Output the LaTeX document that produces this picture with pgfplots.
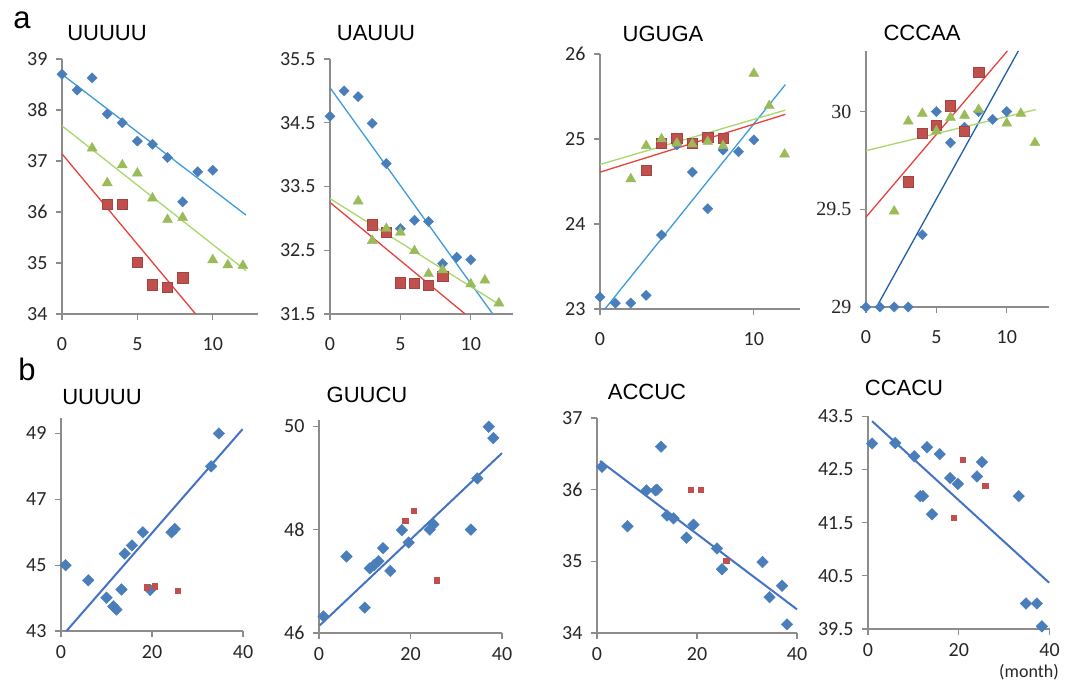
\documentclass[border=0pt]{standalone}
\usepackage{pgfplots}
\pgfplotsset{compat=1.18}
\usepackage{fontspec}
\setmainfont{Carlito}
\newfontfamily\arialfont{Liberation Sans}
\newfontfamily\timesfont{Liberation Serif}
\definecolor{axgray}{HTML}{8C8C8C}
\definecolor{mblue}{HTML}{4A7EBB}
\definecolor{mred}{HTML}{C0504D}
\definecolor{mgreen}{HTML}{9BBB59}
\definecolor{lblue}{HTML}{3C9BDC}
\definecolor{lred}{HTML}{E8413C}
\definecolor{lgreen}{HTML}{A6D86A}
\definecolor{dblue}{HTML}{1F5FA8}
\definecolor{bline}{HTML}{4472C4}
\pgfplotsset{
  base/.style={scale only axis, axis lines*=left, clip=false,
    axis line style={draw=axgray, line width=1.2pt, -},
    every tick/.style={draw=axgray, line width=1.2pt},
    major tick length=6pt, tick align=outside,
    ticklabel style={font=\fontsize{20}{22}\selectfont, text=black!85},
    /pgf/number format/assume math mode=true,
    yticklabel style={xshift=-5pt},
    anchor=south west},
  arow/.style={base, xmin=0, xmax=13, xtick={0,5,10}, xticklabel style={yshift=-14pt}},
  brow/.style={base, xmin=0, xmax=40, xtick={0,20,40}, xticklabel style={yshift=-5pt}},
  bm/.style={only marks, mark=square*, mark size=3.6pt, mark options={rotate=45, fill=mblue, draw=mblue}},
  bbm/.style={only marks, mark=square*, mark size=4.1pt, mark options={rotate=45, fill=mblue, draw=mblue}},
  rm/.style={only marks, mark=square*, mark size=5.2pt, mark options={fill=mred, draw=mred!85!black, line width=0.6pt}},
  srm/.style={only marks, mark=square*, mark size=2.7pt, mark options={fill=mred, draw=mred}},
  gm/.style={only marks, mark=triangle*, mark size=5.8pt, mark options={fill=mgreen, draw=mgreen}},
  tl/.style={no marks, line width=1.3pt, #1},
  bl/.style={no marks, line width=2pt, bline},
}
\begin{document}
\begin{tikzpicture}
\path[use as bounding box] (0pt,0pt) rectangle (1077pt,691pt);
% ---------- a1 UUUUU
\begin{axis}[arow, at={(62pt,377pt)}, width=196pt, height=255pt, ymin=34, ymax=39, ytick={34,35,36,37,38,39}]
\addplot[bm] coordinates {(0,38.7)(1,38.39)(2,38.63)(3,37.92)(4,37.75)(5,37.39)(6,37.33)(7,37.07)(8,36.2)(9,36.79)(10,36.82)};
\addplot[rm] coordinates {(3,36.15)(4,36.15)(5,35.01)(6,34.57)(7,34.52)(8,34.71)};
\addplot[gm] coordinates {(2,37.25)(3,36.57)(4,36.92)(5,36.76)(6,36.27)(7,35.85)(8,35.89)(10,35.06)(11,34.96)(12,34.95)};
\addplot[tl=lblue] coordinates {(0,38.7)(12.2,35.94)};
\addplot[tl=lgreen] coordinates {(0,37.69)(12.2,34.85)};
\addplot[tl=lred] coordinates {(0,37.14)(8.86,34)};
\end{axis}
% ---------- a2 UAUUU
\begin{axis}[arow, at={(330pt,377pt)}, width=183pt, height=255pt, ymin=31.5, ymax=35.5, ytick={31.5,32.5,33.5,34.5,35.5}]
\addplot[bm] coordinates {(0,34.6)(1,35.0)(2,34.91)(3,34.49)(4,33.86)(5,32.84)(6,32.97)(7,32.95)(8,32.29)(9,32.39)(10,32.35)};
\addplot[rm] coordinates {(3,32.9)(4,32.78)(5,31.99)(6,31.98)(7,31.95)(8,32.09)};
\addplot[gm] coordinates {(2,33.27)(3,32.65)(4,32.84)(5,32.78)(6,32.49)(7,32.13)(8,32.19)(10,31.97)(11,32.03)(12,31.67)};
\addplot[tl=lblue] coordinates {(0,35.05)(11.56,31.5)};
\addplot[tl=lgreen] coordinates {(0,33.31)(12.1,31.64)};
\addplot[tl=lred] coordinates {(0,33.25)(9.6,31.5)};
\end{axis}
% ---------- a3 UGUGA
\begin{axis}[arow, xtick={0,10}, at={(600pt,382pt)}, width=200pt, height=255pt, ymin=23, ymax=26, ytick={23,24,25,26}]
\addplot[bm] coordinates {(0,23.14)(1,23.07)(2,23.07)(3,23.16)(4,23.87)(5,24.93)(6,24.61)(7,24.18)(8,24.87)(9,24.85)(10,24.99)};
\addplot[rm] coordinates {(3,24.63)(4,24.95)(5,25.01)(6,24.95)(7,25.02)(8,25.01)};
\addplot[gm] coordinates {(2,24.53)(3,24.92)(4,25.0)(5,24.95)(6,24.94)(7,24.97)(8,24.92)(10,25.77)(11,25.39)(12,24.82)};
\addplot[tl=lblue] coordinates {(0.32,23)(12.05,25.64)};
\addplot[tl=lgreen] coordinates {(0,24.70)(12.05,25.34)};
\addplot[tl=lred] coordinates {(0,24.61)(12.05,25.29)};
\end{axis}
% ---------- a4 CCCAA
\begin{axis}[arow, at={(866pt,384pt)}, width=183pt, height=256pt, ymin=29, ymax=30.31, ytick={29,29.5,30},
  yticklabel style={font=\timesfont\fontsize{20}{22}\selectfont}]
\addplot[bm] coordinates {(0,29)(1,29)(2,29)(3,29)(4,29.37)(5,30)(6,29.84)(7,29.92)(8,30)(9,29.96)(10,30)};
\addplot[rm] coordinates {(3,29.64)(4,29.89)(5,29.93)(6,30.03)(7,29.9)(8,30.2)};
\addplot[gm] coordinates {(2,29.49)(3,29.95)(4,29.99)(5,29.9)(6,29.97)(7,29.98)(8,30.01)(10,29.94)(11,29.99)(12,29.84)};
\addplot[tl=dblue] coordinates {(0.75,29)(10.82,30.31)};
\addplot[tl=lred] coordinates {(0,29.46)(10.04,30.31)};
\addplot[tl=lgreen] coordinates {(0,29.80)(12.05,30.01)};
\end{axis}
% ---------- b1 UUUUU
\begin{axis}[brow, at={(61pt,60pt)}, width=182pt, height=213pt, ymin=43, ymax=49.47, ytick={43,45,47,49}]
\addplot[bbm] coordinates {(1,45)(6,44.54)(10,44.01)(11.5,43.75)(12.2,43.65)(13.3,44.26)(14,45.35)(15.6,45.6)(18,46)(19.6,44.25)(24.3,46)(25,46.1)(33,48)(34.7,49)};
\addplot[srm] coordinates {(18.8,44.33)(20.6,44.36)(25.7,44.23)};
\addplot[bl] coordinates {(1.2,43)(39.9,49.13)};
\end{axis}
% ---------- b2 GUUCU
\begin{axis}[brow, at={(319pt,58pt)}, width=183pt, height=213pt, ymin=46, ymax=50.12, ytick={46,48,50}]
\addplot[bbm] coordinates {(1,46.32)(6,47.48)(10,46.49)(11.1,47.25)(12,47.31)(13,47.39)(14,47.64)(15.6,47.2)(18.1,47.99)(19.6,47.75)(24.2,48)(25,48.1)(33.2,48)(34.6,48.99)(37.1,49.99)(38.1,49.77)};
\addplot[srm] coordinates {(18.8,48.17)(20.7,48.36)(25.7,47.02)};
\addplot[bl] coordinates {(0.2,46.15)(40,49.48)};
\end{axis}
% ---------- b3 ACCUC
\begin{axis}[brow, at={(597pt,58pt)}, width=200pt, height=215pt, ymin=34, ymax=37, ytick={34,35,36,37}]
\addplot[bbm] coordinates {(1,36.32)(6.1,35.49)(9.9,35.99)(11.7,35.99)(12,36)(12.8,36.6)(14,35.64)(15.3,35.6)(17.9,35.33)(19.3,35.51)(24,35.18)(25,34.89)(33.1,34.99)(34.5,34.5)(37,34.66)(38,34.12)};
\addplot[srm] coordinates {(18.7,36)(20.7,36)(25.8,35.01)};
\addplot[bl] coordinates {(0.6,36.40)(40,34.33)};
\end{axis}
% ---------- b4 CCACU
\begin{axis}[brow, at={(868pt,62pt)}, width=181.6pt, height=212.6pt, ymin=39.5, ymax=43.5, ytick={39.5,40.5,41.5,42.5,43.5}]
\addplot[bbm] coordinates {(0.9,42.99)(6,43)(10.2,42.75)(11.5,42)(12.1,42)(13,42.92)(14.1,41.66)(15.8,42.79)(18.1,42.34)(19.8,42.23)(24,42.37)(25.1,42.64)(33.2,42)(34.8,39.98)(37.2,39.98)(38.3,39.55)};
\addplot[srm] coordinates {(20.9,42.69)(25.8,42.2)(18.9,41.59)};
\addplot[bl] coordinates {(0.9,43.41)(39.9,40.37)};
\end{axis}
% ---------- titles and labels
\begin{scope}[every node/.style={font=\arialfont\fontsize{22}{22}\selectfont, anchor=center, inner sep=0pt}]
\node at (107pt,658pt) {UUUUU};
\node at (376pt,658pt) {UAUUU};
\node at (663pt,657pt) {UGUGA};
\node at (922pt,658pt) {CCCAA};
\node at (102pt,294pt) {UUUUU};
\node at (367pt,296pt) {GUUCU};
\node at (647pt,299pt) {ACCUC};
\node at (904pt,303pt) {CCACU};
\end{scope}
\node[font=\arialfont\fontsize{31}{31}\selectfont, anchor=base] at (22pt,662pt) {a};
\node[font=\arialfont\fontsize{31}{31}\selectfont, anchor=base] at (27pt,310pt) {b};
\node[font=\fontsize{18}{20}\selectfont, text=black!85, inner sep=0pt] at (1029pt,19pt) {(month)};
\end{tikzpicture}
\end{document}
